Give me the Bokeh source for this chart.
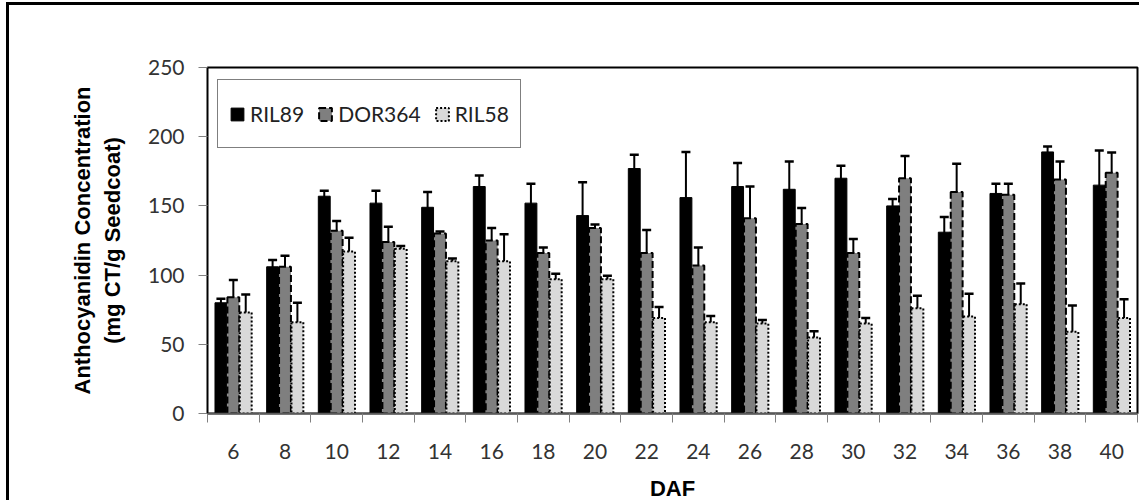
from bokeh.plotting import figure
from bokeh.models import ColumnDataSource, Whisker, TeeHead, FixedTicker, Legend, LegendItem, LinearAxis
from bokeh.transform import dodge
from bokeh.embed import file_html
from bokeh.resources import INLINE

DAF = ["6", "8", "10", "12", "14", "16", "18", "20", "22", "24", "26", "28", "30", "32", "34", "36", "38", "40"]
RIL89 = [80, 106, 157, 152, 149, 164, 152, 143, 177, 156, 164, 162, 170, 150, 131, 159, 189, 165]
RIL89_err = [3, 5, 4, 9, 11, 8, 14, 24, 10, 33, 17, 20, 9, 5, 11, 7, 4, 25]
DOR364 = [84, 106, 132, 124, 130, 125, 116, 134, 116, 107, 141, 137, 116, 170, 160, 158, 169, 174]
DOR364_err = [12.5, 8, 7, 11, 1.5, 9, 4, 2.5, 16.5, 13, 23, 11.5, 10, 16, 20.5, 8, 13, 14.5]
RIL58 = [73, 66, 117, 119, 110, 110, 97, 97, 69, 66, 65, 55, 65, 76, 70, 79, 59, 69]
RIL58_err = [13, 14, 10, 2, 2, 19.5, 4, 2.5, 8, 4.5, 2.5, 4.5, 4, 9, 16.5, 15, 19, 13.5]
SERIES = ["RIL89", "DOR364", "RIL58"]
Y_TICKS = [0, 50, 100, 150, 200, 250]

idx = list(range(len(DAF)))
bounds = [i - 0.5 for i in idx] + [len(DAF) - 0.5]
data = dict(x=idx)
for name, vals, errs in [("RIL89", RIL89, RIL89_err), ("DOR364", DOR364, DOR364_err), ("RIL58", RIL58, RIL58_err)]:
    data[name] = vals
    data[name + "_up"] = [v + e for v, e in zip(vals, errs)]
    data[name + "_lo"] = [v - e for v, e in zip(vals, errs)]
src = ColumnDataSource(data)

p = figure(width=1130, height=492, output_backend="svg", toolbar_location=None,
           x_range=(-0.5, len(DAF) - 0.5), y_range=(0, 250),
           min_border_left=198, min_border_top=62, min_border_right=2, min_border_bottom=10,
           frame_width=930, frame_height=346)
p.styles = {"border-top": "3px solid black", "border-left": "3px solid black",
            "margin-left": "6px", "margin-top": "2px",
            "margin-bottom": "-40px", "margin-right": "-40px"}
p.xgrid.visible = False
p.ygrid.visible = False
p.outline_line_color = "black"
p.outline_line_width = 2
p.background_fill_color = "white"

bw = 0.24
styles = {
    "RIL89": dict(fill_color="black", line_color="black", line_width=1),
    "DOR364": dict(fill_color="#7f7f7f", line_color="black", line_width=2, line_dash="7 3"),
    "RIL58": dict(fill_color="#d9d9d9", line_color="black", line_width=2, line_dash="2 2"),
}
offsets = {"RIL89": -bw, "DOR364": 0.0, "RIL58": bw}
renderers = {}
for name in SERIES:
    r = p.vbar(x=dodge("x", offsets[name], range=p.x_range), top=name, width=bw - 0.01,
               source=src, **styles[name])
    renderers[name] = r
for name in SERIES:
    w = Whisker(source=src, base=dodge("x", offsets[name], range=p.x_range),
                upper=name + "_up", lower=name + "_lo", dimension="height",
                line_color="black", line_width=2,
                upper_head=TeeHead(size=9, line_width=2.5, line_color="black"),
                lower_head=TeeHead(size=9, line_width=2.5, line_color="black"))
    p.add_layout(w)

# inner x axis: tick marks at group boundaries, no labels
xa = p.xaxis[0]
xa.ticker = FixedTicker(ticks=bounds)
xa.major_label_overrides = {b: "" for b in bounds}
xa.major_label_text_font_size = "1px"
xa.major_label_standoff = 0
xa.major_tick_out = 9
xa.major_tick_in = 0
xa.major_tick_line_color = "#808080"
xa.minor_tick_out = 0
xa.minor_tick_in = 0
xa.axis_line_color = "#595959"
xa.axis_line_width = 1.5

# outer x axis: DAF labels at group centres
xl = LinearAxis(ticker=FixedTicker(ticks=idx))
xl.major_label_overrides = {i: d for i, d in zip(idx, DAF)}
xl.axis_line_color = None
xl.major_tick_line_color = None
xl.minor_tick_line_color = None
xl.major_tick_out = 0
xl.major_tick_in = 0
xl.major_label_standoff = 21
xl.major_label_text_font = "Lato"
xl.major_label_text_font_size = "21px"
xl.major_label_text_color = "#333333"
xl.axis_label = "DAF"
xl.axis_label_text_font = "Liberation Sans"
xl.axis_label_text_font_style = "bold"
xl.axis_label_text_font_size = "22px"
xl.axis_label_text_color = "black"
xl.axis_label_standoff = 14
p.add_layout(xl, "below")

ya = p.yaxis[0]
ya.ticker = FixedTicker(ticks=Y_TICKS)
ya.minor_tick_out = 0
ya.minor_tick_in = 0
ya.major_tick_out = 9
ya.major_tick_in = 0
ya.major_tick_line_color = "#808080"
ya.axis_line_color = "black"
ya.major_label_standoff = 14
ya.major_label_text_font = "Lato"
ya.major_label_text_font_size = "21px"
ya.major_label_text_color = "#333333"
ya.axis_label = "Anthocyanidin Concentration\n(mg CT/g Seedcoat)"
ya.axis_label_text_font = "Liberation Sans"
ya.axis_label_text_font_style = "bold"
ya.axis_label_text_font_size = "22px"
ya.axis_label_text_color = "black"
ya.axis_label_standoff = 20

legend = Legend(items=[LegendItem(label=n, renderers=[renderers[n]]) for n in SERIES],
                orientation="horizontal", location=(10, 265),
                label_text_font="Lato", label_text_font_size="21px", label_text_color="#222222",
                glyph_width=16, glyph_height=16, label_standoff=5, spacing=13,
                padding=11, label_height=45, margin=0,
                border_line_color="black", border_line_width=1.5,
                background_fill_color="white", background_fill_alpha=1)
p.add_layout(legend, "center")

open("out.html", "w").write(file_html(p, INLINE))
